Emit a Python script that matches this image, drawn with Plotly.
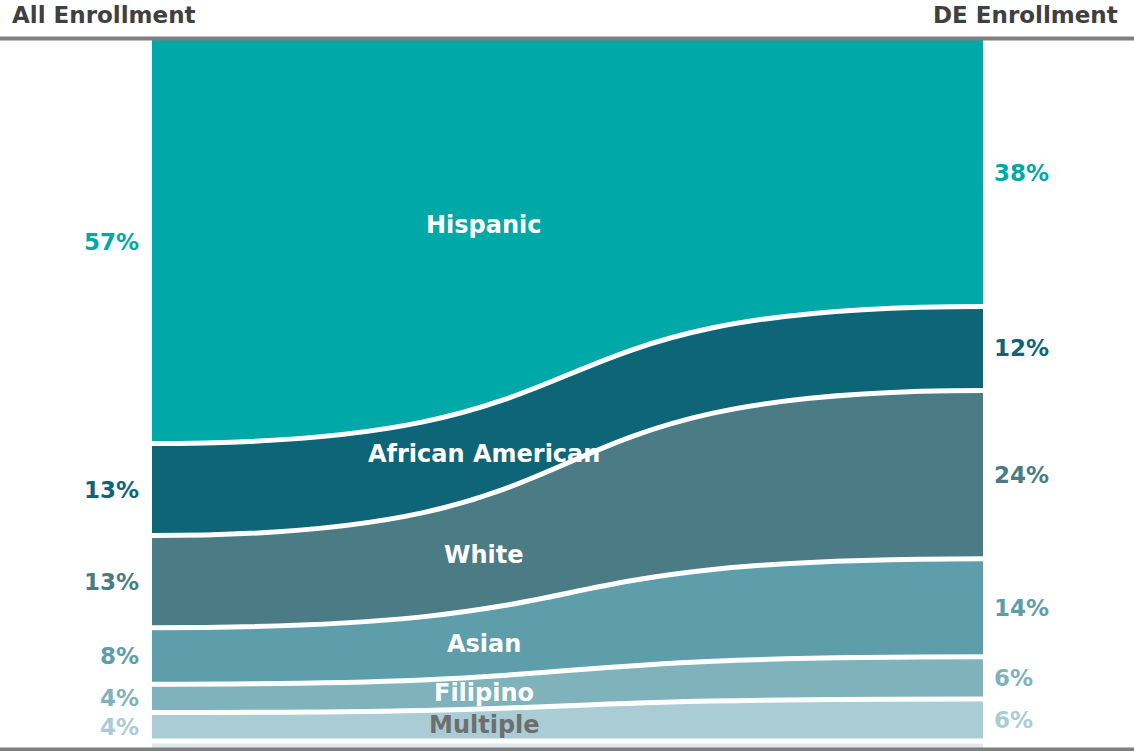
import plotly.graph_objects as go

# ---- data ----
groups = ["Hispanic", "African American", "White", "Asian", "Filipino", "Multiple", "Other"]
all_enrollment = [57, 13, 13, 8, 4, 4, 1]
de_enrollment = [38, 12, 24, 14, 6, 6, 1]
left_labels = ["57%", "13%", "13%", "8%", "4%", "4%", ""]
right_labels = ["38%", "12%", "24%", "14%", "6%", "6%", ""]
side_titles = ["All Enrollment", "DE Enrollment"]

# ---- styles ----
band_colors = ["#00A8A8", "#0E6578", "#4B7B85", "#5E9EAB", "#80B2BC", "#A9CCD5", "#DCE8EC"]
name_colors = ["white", "white", "white", "white", "white", "#6E6E6E", "white"]
C1, C2 = 0.6, 0.4   # bezier control x positions (ribbon curvature)

W, H = 1134, 751
ML, MR, MT, MB = 152, 151, 40, 3
PW = W - ML - MR
PH = H - MT - MB


def norm(vals):
    s = sum(vals)
    return [v / s * 100 for v in vals]


def cumul(vals):
    out = [0.0]
    for v in vals:
        out.append(out[-1] + v)
    return out


lb = cumul(norm(all_enrollment))
rb = cumul(norm(de_enrollment))


def fwd(yl, yr):
    return f"C {C1},{yl} {C2},{yr} 1,{yr}"


def back(yr, yl):
    return f"C {C2},{yr} {C1},{yl} 0,{yl}"


shapes = []
for i in range(len(groups)):
    tl, tr, bl, br = lb[i], rb[i], lb[i + 1], rb[i + 1]
    path = f"M 0,{tl} {fwd(tl, tr)} L 1,{br} {back(br, bl)} Z"
    shapes.append(dict(type="path", xref="x", yref="y", path=path, layer="below",
                       fillcolor=band_colors[i], line=dict(width=0)))
for i in range(1, len(groups)):
    path = f"M 0,{lb[i]} {fwd(lb[i], rb[i])}"
    shapes.append(dict(type="path", xref="x", yref="y", path=path, layer="below",
                       fillcolor="rgba(0,0,0,0)", line=dict(color="white", width=5)))

shapes += [
    dict(type="line", xref="paper", yref="paper", x0=-ML / PW, x1=1 + MR / PW,
         y0=1 + 1.5 / PH, y1=1 + 1.5 / PH, line=dict(color="#7F7F7F", width=4)),
    dict(type="line", xref="paper", yref="paper", x0=-ML / PW, x1=1 + MR / PW,
         y0=-1.5 / PH, y1=-1.5 / PH, line=dict(color="#7F7F7F", width=4)),
]

fig = go.Figure()

# endpoints of each band carried as (invisible) traces through the axes
lc = [(lb[i] + lb[i + 1]) / 2 for i in range(len(groups))]
rc = [(rb[i] + rb[i + 1]) / 2 for i in range(len(groups))]
fig.add_trace(go.Scatter(x=[0] * len(groups), y=lc, mode="markers", marker=dict(opacity=0),
                         customdata=all_enrollment, hoverinfo="skip", showlegend=False))
fig.add_trace(go.Scatter(x=[1] * len(groups), y=rc, mode="markers", marker=dict(opacity=0),
                         customdata=de_enrollment, hoverinfo="skip", showlegend=False))

annotations = []
pct_font = dict(family="DejaVu Sans", size=23, weight="bold")
name_font = dict(family="DejaVu Sans", size=24, weight="bold")
for i, g in enumerate(groups):
    if left_labels[i]:
        annotations.append(dict(x=0, xref="x", y=lc[i], yref="y", text=left_labels[i],
                                xshift=-11, showarrow=False, xanchor="right", yanchor="middle",
                                font=dict(pct_font, color=band_colors[i])))
    if right_labels[i]:
        annotations.append(dict(x=1, xref="x", y=rc[i], yref="y", text=right_labels[i],
                                xshift=9, showarrow=False, xanchor="left", yanchor="middle",
                                font=dict(pct_font, color=band_colors[i])))
    if g != "Other":
        ny = lc[i] + 0.25 * (rc[i] - lc[i])
        annotations.append(dict(x=0.4, xref="x", y=ny, yref="y", text=g, showarrow=False,
                                xanchor="center", yanchor="middle",
                                font=dict(name_font, color=name_colors[i])))

annotations.append(dict(x=(10 - ML) / PW, xref="paper", y=1 + (MT - 15) / PH, yref="paper",
                        text=side_titles[0], showarrow=False, xanchor="left", yanchor="middle",
                        font=dict(family="DejaVu Sans", size=23, weight="bold", color="#404040")))
annotations.append(dict(x=(1120 - ML) / PW, xref="paper", y=1 + (MT - 15) / PH, yref="paper",
                        text=side_titles[1], showarrow=False, xanchor="right", yanchor="middle",
                        font=dict(family="DejaVu Sans", size=23, weight="bold", color="#404040")))

fig.update_layout(
    width=W, height=H,
    margin=dict(l=ML, r=MR, t=MT, b=MB, pad=0),
    paper_bgcolor="white", plot_bgcolor="white",
    xaxis=dict(range=[0, 1], visible=False, fixedrange=True),
    yaxis=dict(range=[100, 0], visible=False, fixedrange=True),
    annotations=annotations, shapes=shapes,
    showlegend=False,
)

fig.write_html("out.html", config={"displayModeBar": False},
               post_script="document.body.style.margin='0';")
